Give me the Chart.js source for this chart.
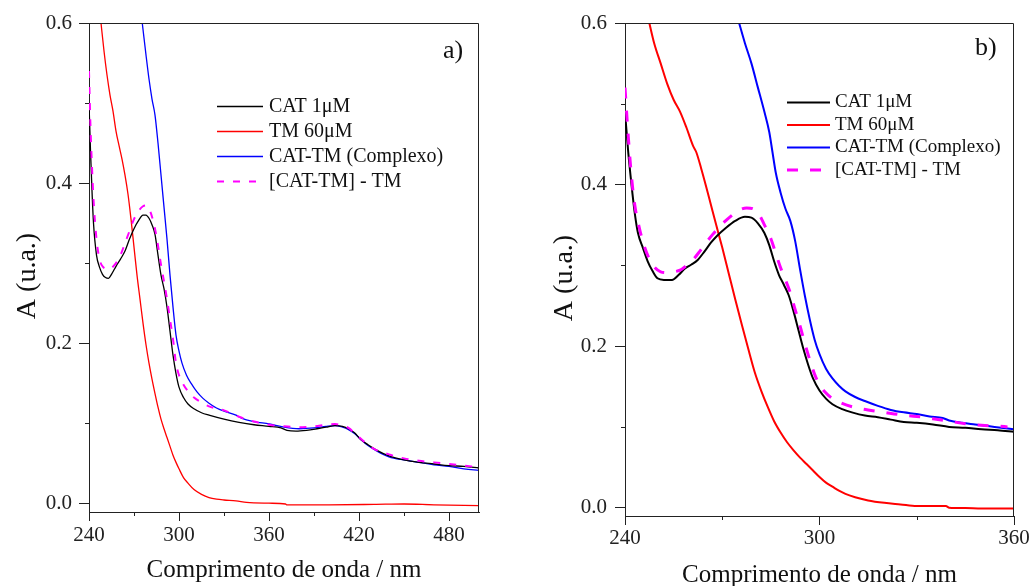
<!DOCTYPE html>
<html>
<head>
<meta charset="utf-8">
<script src="https://cdn.jsdelivr.net/npm/chart.js@4.4.1/dist/chart.umd.min.js"></script>
<style>
  body { margin: 0; background: #fff; }
  .panel { position: absolute; top: 0; }
</style>
</head>
<body>
<div class="panel" style="left:0px"><canvas id="chartA" width="520" height="586"></canvas></div>
<div class="panel" style="left:530px"><canvas id="chartB" width="502" height="586"></canvas></div>
<script>
const SERIF = '"Liberation Serif", "Times New Roman", serif';

const seriesLabels = ['CAT 1\u03bcM', 'TM 60\u03bcM', 'CAT-TM (Complexo)', '[CAT-TM] - TM'];
const xTitle = 'Comprimento de onda / nm';
const yTitle = 'A (u.a.)';

// ---- painel a) ----
const a_xTicks = [240, 300, 360, 420, 480];
const a_xMinor = [270, 330, 390, 450];
const a_yTicks = [0.0, 0.2, 0.4, 0.6];
const a_yMinor = [0.1, 0.3, 0.5];

const a_cat_nm  = [240, 241, 242, 243, 245, 247, 249, 251, 253, 255, 258, 261, 264, 267, 270, 273, 276, 278, 280, 282, 284, 286, 288, 290, 292, 294, 296, 298, 300, 303, 306, 310, 315, 320, 330, 340, 350, 360, 368, 372, 378, 385, 392, 398, 404, 409, 413, 417, 421, 426, 432, 440, 450, 460, 470, 480, 490, 500];
const a_cat_abs = [0.50, 0.44, 0.39, 0.35, 0.31, 0.295, 0.286, 0.282, 0.281, 0.286, 0.296, 0.305, 0.315, 0.33, 0.343, 0.353, 0.36, 0.36, 0.356, 0.348, 0.336, 0.31, 0.285, 0.268, 0.245, 0.215, 0.185, 0.162, 0.145, 0.132, 0.124, 0.118, 0.113, 0.110, 0.105, 0.101, 0.098, 0.096, 0.094, 0.091, 0.090, 0.091, 0.093, 0.095, 0.097, 0.096, 0.093, 0.088, 0.080, 0.073, 0.066, 0.059, 0.054, 0.051, 0.049, 0.047, 0.046, 0.044];

const a_tm_nm  = [248, 250, 252, 254, 256, 258, 260, 262, 264, 266, 268, 270, 272, 274, 276, 278, 280, 282, 284, 286, 288, 290, 292, 294, 296, 298, 300, 303, 306, 310, 315, 320, 325, 330, 338, 345, 360, 371, 372, 400, 430, 450, 470, 500];
const a_tm_abs = [0.60, 0.565, 0.535, 0.51, 0.49, 0.465, 0.447, 0.43, 0.41, 0.386, 0.355, 0.32, 0.285, 0.255, 0.225, 0.198, 0.175, 0.155, 0.137, 0.12, 0.105, 0.093, 0.082, 0.071, 0.06, 0.051, 0.043, 0.032, 0.025, 0.017, 0.011, 0.007, 0.005, 0.004, 0.003, 0.001, 0.0, -0.001, -0.002, -0.002, -0.0015, -0.001, -0.002, -0.003];

const a_cx_nm  = [275.5, 278, 280, 282, 284, 286, 288, 290, 292, 294, 296, 298, 300, 302, 305, 308, 312, 316, 320, 325, 330, 338, 342, 350, 360, 370, 380, 390, 398, 404, 409, 413, 417, 421, 426, 432, 440, 450, 460, 470, 480, 490, 500];
const a_cx_abs = [0.60, 0.56, 0.53, 0.505, 0.485, 0.45, 0.41, 0.37, 0.33, 0.285, 0.245, 0.21, 0.19, 0.175, 0.16, 0.15, 0.139, 0.131, 0.125, 0.119, 0.115, 0.11, 0.106, 0.102, 0.099, 0.095, 0.093, 0.094, 0.096, 0.097, 0.095, 0.092, 0.087, 0.080, 0.072, 0.065, 0.058, 0.054, 0.051, 0.048, 0.046, 0.043, 0.041];

const a_dif_nm  = [240, 241, 242, 243, 245, 247, 249, 251, 253, 255, 258, 261, 264, 267, 270, 273, 276, 278, 280, 282, 284, 286, 288, 290, 292, 294, 296, 298, 300, 303, 306, 310, 315, 320, 330, 340, 350, 360, 370, 380, 390, 398, 404, 409, 413, 418, 424, 430, 440, 450, 460, 470, 480, 490, 500];
const a_dif_abs = [0.54, 0.47, 0.42, 0.38, 0.33, 0.305, 0.296, 0.293, 0.292, 0.294, 0.300, 0.31, 0.325, 0.34, 0.355, 0.365, 0.371, 0.372, 0.368, 0.358, 0.343, 0.322, 0.298, 0.277, 0.255, 0.23, 0.205, 0.175, 0.16, 0.148, 0.14, 0.132, 0.126, 0.121, 0.116, 0.108, 0.102, 0.098, 0.096, 0.095, 0.096, 0.098, 0.099, 0.097, 0.094, 0.086, 0.076, 0.068, 0.061, 0.056, 0.053, 0.051, 0.049, 0.047, 0.045];

// ---- painel b) ----
const b_xTicks = [240, 300, 360];
const b_xMinor = [270, 330];
const b_yTicks = [0.0, 0.2, 0.4, 0.6];
const b_yMinor = [0.1, 0.3, 0.5];

const b_cat_nm  = [240, 241, 242, 243, 244, 245.5, 247, 248.5, 250, 252, 254.5, 256.5, 258.5, 260.5, 262.5, 264.5, 266.5, 268.5, 271, 274, 277, 279, 281, 283, 284.5, 286, 287.5, 289, 290.5, 292, 293.5, 295, 296.5, 298, 300, 302, 304, 307, 310, 314, 318, 322, 326, 330, 335, 340, 345, 350, 355, 360];
const b_cat_abs = [0.49, 0.44, 0.40, 0.365, 0.34, 0.322, 0.305, 0.293, 0.284, 0.282, 0.282, 0.288, 0.296, 0.301, 0.307, 0.317, 0.328, 0.337, 0.346, 0.355, 0.36, 0.359, 0.352, 0.34, 0.325, 0.305, 0.288, 0.276, 0.263, 0.243, 0.22, 0.197, 0.177, 0.16, 0.145, 0.135, 0.128, 0.122, 0.118, 0.114, 0.112, 0.109, 0.106, 0.105, 0.103, 0.100, 0.099, 0.097, 0.096, 0.094];

const b_tm_nm  = [247.5, 249, 251, 253, 255, 257, 259, 261, 262, 263.5, 265, 266.5, 268, 270, 272, 274, 276, 278, 280, 282, 284, 286, 288, 290, 292, 294, 296, 298, 300, 302, 304, 306, 308, 311, 315, 320, 325, 330, 335, 339, 340, 345, 350, 360];
const b_tm_abs = [0.60, 0.575, 0.55, 0.525, 0.505, 0.49, 0.47, 0.448, 0.44, 0.42, 0.398, 0.375, 0.352, 0.322, 0.29, 0.258, 0.227, 0.197, 0.168, 0.145, 0.125, 0.107, 0.093, 0.081, 0.071, 0.062, 0.054, 0.046, 0.038, 0.031, 0.026, 0.021, 0.017, 0.013, 0.009, 0.006, 0.004, 0.002, 0.002, 0.002, 0.0, -0.0005, -0.001, -0.001];

const b_cx_nm  = [275.2, 277, 279, 281, 283, 284.5, 285.5, 286.5, 288, 289.5, 291, 292.5, 294, 295.5, 297, 298.5, 300, 302, 304, 306, 308, 311, 314, 318, 322, 326, 330, 334, 338, 340, 344, 348, 352, 356, 360];
const b_cx_abs = [0.60, 0.575, 0.55, 0.52, 0.49, 0.465, 0.44, 0.415, 0.39, 0.37, 0.355, 0.33, 0.295, 0.262, 0.233, 0.208, 0.19, 0.172, 0.16, 0.151, 0.144, 0.137, 0.132, 0.126, 0.121, 0.118, 0.116, 0.113, 0.111, 0.108, 0.105, 0.103, 0.101, 0.099, 0.097];

const b_dif_nm  = [240, 241, 242, 243, 244.5, 246, 247.5, 249, 251, 253, 255, 257, 259, 261, 263, 265, 267, 269, 271, 273, 275, 277.5, 279.5, 281.5, 283, 285, 286.5, 288, 289.5, 291, 292.5, 294, 295.5, 297, 298.5, 300, 302, 304, 307, 311, 315, 320, 325, 330, 335, 340, 345, 350, 355, 358];
const b_dif_abs = [0.52, 0.46, 0.41, 0.375, 0.345, 0.323, 0.308, 0.298, 0.292, 0.291, 0.292, 0.294, 0.30, 0.307, 0.317, 0.328, 0.338, 0.347, 0.355, 0.362, 0.368, 0.371, 0.37, 0.362, 0.35, 0.333, 0.315, 0.297, 0.282, 0.266, 0.245, 0.225, 0.203, 0.183, 0.165, 0.152, 0.142, 0.135, 0.129, 0.124, 0.121, 0.118, 0.115, 0.113, 0.11, 0.107, 0.104, 0.102, 0.101, 0.10];

const colors = ['#000000', '#ff0000', '#0000ff', '#ff00ff'];

function pts(nm, abs) {
    return nm.map((v, i) => ({ x: v, y: abs[i] }));
}

// moldura superior/direita, ticks menores, legenda e títulos
const decoPlugin = {
    id: 'deco',
    afterDraw(chart, args, o) {
        const { ctx, chartArea: a, scales: { x, y } } = chart;
        ctx.save();
        ctx.strokeStyle = '#222';
        ctx.lineWidth = 1;
        ctx.setLineDash([]);
        ctx.beginPath();
        const top = Math.round(a.top) + 0.5;
        const right = Math.round(a.right) - 0.5;
        ctx.moveTo(a.left, top);
        ctx.lineTo(right, top);
        ctx.lineTo(right, a.bottom);
        o.minorX.forEach(v => {
            const px = Math.round(x.getPixelForValue(v)) + 0.5;
            ctx.moveTo(px, a.bottom);
            ctx.lineTo(px, a.bottom + o.minorLen);
        });
        o.minorY.forEach(v => {
            const py = Math.round(y.getPixelForValue(v)) + 0.5;
            ctx.moveTo(a.left - o.minorLen, py);
            ctx.lineTo(a.left, py);
        });
        ctx.stroke();

        // legenda
        ctx.font = o.legendFont + 'px ' + SERIF;
        ctx.textAlign = 'left';
        ctx.textBaseline = 'middle';
        chart.data.datasets.forEach((ds, i) => {
            const ly = o.legendY + i * o.legendStep;
            ctx.strokeStyle = ds.borderColor;
            ctx.lineWidth = ds.borderWidth;
            ctx.setLineDash(ds.borderDash || []);
            ctx.beginPath();
            ctx.moveTo(o.legendX, ly);
            ctx.lineTo(o.legendX + o.legendLen, ly);
            ctx.stroke();
            ctx.fillStyle = '#111';
            ctx.fillText(ds.label, o.legendX + o.legendLen + o.legendGap, ly);
        });

        // letra do painel
        ctx.fillStyle = '#111';
        ctx.textBaseline = 'alphabetic';
        ctx.font = o.letterFont + 'px ' + SERIF;
        ctx.fillText(o.letter, o.letterX, o.letterY);

        // títulos dos eixos
        ctx.textAlign = 'center';
        ctx.font = o.xTitleFont + 'px ' + SERIF;
        ctx.fillText(xTitle, (a.left + a.right) / 2, o.xTitleY);
        ctx.translate(o.yTitleX, o.yTitleY);
        ctx.rotate(-Math.PI / 2);
        ctx.font = o.yTitleFont + 'px ' + SERIF;
        ctx.fillText(yTitle, 0, 0);
        ctx.restore();
    }
};

function makePanel(id, cfg) {
    const widths = cfg.thin ? [1.3, 1.3, 1.3, 2] : [2, 2, 2, 3];
    const dash = cfg.thin ? [7, 9] : [11, 12];
    const drawOrder = [1, 3, 2, 0];
    const datasets = cfg.series.map((s, i) => ({
        label: seriesLabels[i],
        data: pts(s[0], s[1]),
        borderColor: colors[i],
        borderWidth: widths[i],
        borderDash: i === 3 ? dash : undefined,
        pointRadius: 0,
        cubicInterpolationMode: 'monotone',
        fill: false,
        order: drawOrder[i]
    }));
    return new Chart(document.getElementById(id), {
        type: 'line',
        data: { datasets },
        options: {
            responsive: false,
            animation: false,
            layout: { padding: { left: 0, top: 23, right: cfg.padRight, bottom: 0 } },
            plugins: {
                legend: { display: false },
                tooltip: { enabled: false },
                deco: cfg.deco
            },
            scales: {
                x: {
                    type: 'linear',
                    min: cfg.xMin,
                    max: cfg.xMax,
                    afterBuildTicks: s => { s.ticks = cfg.xTicks.map(v => ({ value: v })); },
                    afterFit: s => { s.height = cfg.xAxisH; },
                    grid: { drawOnChartArea: false, tickLength: 9, color: '#222', tickColor: '#222' },
                    border: { display: true, color: '#222', width: 1 },
                    ticks: {
                        padding: cfg.xTickPad,
                        maxRotation: 0,
                        color: '#222',
                        font: { family: SERIF, size: 21 },
                        callback: v => String(v)
                    }
                },
                y: {
                    type: 'linear',
                    min: cfg.yMin,
                    max: 0.6,
                    afterBuildTicks: s => { s.ticks = cfg.yTicks.map(v => ({ value: v })); },
                    afterFit: s => { s.width = cfg.yAxisW; },
                    grid: { drawOnChartArea: false, tickLength: 10, color: '#222', tickColor: '#222' },
                    border: { display: true, color: '#222', width: 1 },
                    ticks: {
                        padding: cfg.yTickPad,
                        color: '#222',
                        font: { family: SERIF, size: 21 },
                        callback: v => Number(v).toFixed(1)
                    }
                }
            }
        },
        plugins: [decoPlugin]
    });
}

makePanel('chartA', {
    thin: true,
    series: [[a_cat_nm, a_cat_abs], [a_tm_nm, a_tm_abs], [a_cx_nm, a_cx_abs], [a_dif_nm, a_dif_abs]],
    xMin: 240, xMax: 500, yMin: -0.011,
    xTicks: a_xTicks, yTicks: a_yTicks,
    padRight: 41, xAxisH: 74, yAxisW: 89, xTickPad: 2, yTickPad: 7,
    deco: {
        minorX: a_xMinor, minorY: a_yMinor, minorLen: 4,
        legendX: 217, legendY: 106.5, legendStep: 25, legendLen: 46, legendGap: 6, legendFont: 20,
        letter: 'a)', letterX: 443, letterY: 58, letterFont: 26,
        xTitleY: 577, xTitleFont: 25,
        yTitleX: 35, yTitleY: 276, yTitleFont: 28
    }
});

makePanel('chartB', {
    thin: false,
    series: [[b_cat_nm, b_cat_abs], [b_tm_nm, b_tm_abs], [b_cx_nm, b_cx_abs], [b_dif_nm, b_dif_abs]],
    xMin: 240, xMax: 360, yMin: -0.0103,
    xTicks: b_xTicks, yTicks: b_yTicks,
    padRight: 18, xAxisH: 70, yAxisW: 95, xTickPad: 1, yTickPad: 8,
    deco: {
        minorX: b_xMinor, minorY: b_yMinor, minorLen: 4,
        legendX: 257, legendY: 102.5, legendStep: 22.5, legendLen: 43, legendGap: 5, legendFont: 19,
        letter: 'b)', letterX: 445, letterY: 55, letterFont: 26,
        xTitleY: 582, xTitleFont: 25,
        yTitleX: 42, yTitleY: 278, yTitleFont: 28
    }
});
</script>
</body>
</html>
